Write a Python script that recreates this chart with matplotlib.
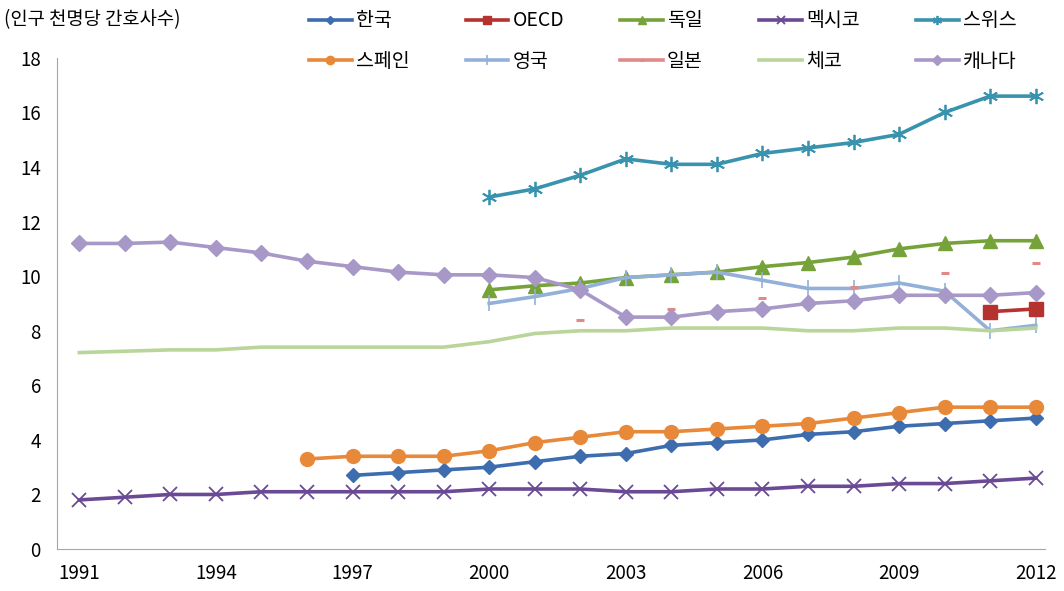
import numpy as np
import matplotlib
matplotlib.use("Agg")
import matplotlib.pyplot as plt

plt.rcParams['font.family'] = ['Noto Sans CJK KR', 'DejaVu Sans']

years = list(range(1991, 2013))
nan = np.nan

# nurses per 1000 population
korea = [nan]*6 + [2.7, 2.8, 2.9, 3.0, 3.2, 3.4, 3.5, 3.8, 3.9, 4.0, 4.2, 4.3, 4.5, 4.6, 4.7, 4.8]
oecd = [nan]*20 + [8.7, 8.8]
germany = [nan]*9 + [9.5, 9.65, 9.75, 9.95, 10.05, 10.15, 10.35, 10.5, 10.7, 11.0, 11.2, 11.3, 11.3]
mexico = [1.8, 1.9, 2.0, 2.0, 2.1, 2.1, 2.1, 2.1, 2.1, 2.2, 2.2, 2.2, 2.1, 2.1, 2.2, 2.2,
          2.3, 2.3, 2.4, 2.4, 2.5, 2.6]
swiss = [nan]*9 + [12.9, 13.2, 13.7, 14.3, 14.1, 14.1, 14.5, 14.7, 14.9, 15.2, 16.0, 16.6, 16.6]
spain = [nan]*5 + [3.3, 3.4, 3.4, 3.4, 3.6, 3.9, 4.1, 4.3, 4.3, 4.4, 4.5, 4.6, 4.8, 5.0, 5.2, 5.2, 5.2]
uk = [nan]*9 + [9.0, 9.25, 9.55, 9.95, 10.05, 10.15, 9.85, 9.55, 9.55, 9.75, 9.45, 8.0, 8.2]
japan = [nan]*11 + [8.4, nan, 8.8, nan, 9.2, nan, 9.6, nan, 10.1, nan, 10.5]
czech = [7.2, 7.25, 7.3, 7.3, 7.4, 7.4, 7.4, 7.4, 7.4, 7.6, 7.9, 8.0, 8.0, 8.1, 8.1, 8.1,
         8.0, 8.0, 8.1, 8.1, 8.0, 8.1]
canada = [11.2, 11.2, 11.25, 11.05, 10.85, 10.55, 10.35, 10.15, 10.05, 10.05, 9.95, 9.5,
          8.5, 8.5, 8.7, 8.8, 9.0, 9.1, 9.3, 9.3, 9.3, 9.4]

xticks = [1991, 1994, 1997, 2000, 2003, 2006, 2009, 2012]

fig = plt.figure(figsize=(10.64, 5.91), dpi=100)
ax = fig.add_axes([0.054, 0.071, 0.928, 0.831])

lw = 2.6
h_kor, = ax.plot(years, korea, color='#3D6DAE', lw=lw, marker='D', ms=7, label='한국')
h_oecd, = ax.plot(years, oecd, color='#B5322E', lw=lw, marker='s', ms=10, label='OECD')
h_ger, = ax.plot(years, germany, color='#76A23A', lw=lw, marker='^', ms=10, label='독일')
h_mex, = ax.plot(years, mexico, color='#6A4A94', lw=lw, marker='x', ms=10, mew=1.3, label='멕시코')
h_swi, = ax.plot(years, swiss, color='#3A93AE', lw=lw, marker=(6, 2, 0), ms=11, mew=1.3, label='스위스')
h_spa, = ax.plot(years, spain, color='#E8893A', lw=lw, marker='o', ms=10, label='스페인')
h_uk, = ax.plot(years, uk, color='#93B0D8', lw=lw, marker='|', ms=12, mew=1.2, label='영국')
h_jap, = ax.plot(years, japan, color='#E08A88', lw=lw, marker='_', ms=6, mew=2.2, label='일본')
h_cze, = ax.plot(years, czech, color='#B9D59A', lw=lw, label='체코')
h_can, = ax.plot(years, canada, color='#A898C8', lw=lw, marker='D', ms=8, label='캐나다')

ax.set_xlim(1990.52, 2012.2)
ax.set_ylim(0, 18)
ax.set_yticks(range(0, 19, 2))
ax.set_xticks(xticks)
ax.tick_params(length=0, labelsize=13.5, pad=10)
ax.tick_params(axis='y', pad=12)
for s in ['top', 'right']:
    ax.spines[s].set_visible(False)
for s in ['left', 'bottom']:
    ax.spines[s].set_color('#A6A6A6')

# legend is filled column by column, so interleave to get the two rows
order = [h_kor, h_spa, h_oecd, h_uk, h_ger, h_jap, h_mex, h_cze, h_swi, h_can]
fig.legend(handles=order, loc='upper left', bbox_to_anchor=(0.274, 1.012), ncol=5,
           frameon=False, fontsize=14, handlelength=2.2, handletextpad=0.2,
           columnspacing=2.9, labelspacing=1.0, markerscale=0.6)

fig.text(0.004, 0.967, '(인구 천명당 간호사수)', fontsize=13.5, va='center')

fig.savefig('out.png', dpi=100)
